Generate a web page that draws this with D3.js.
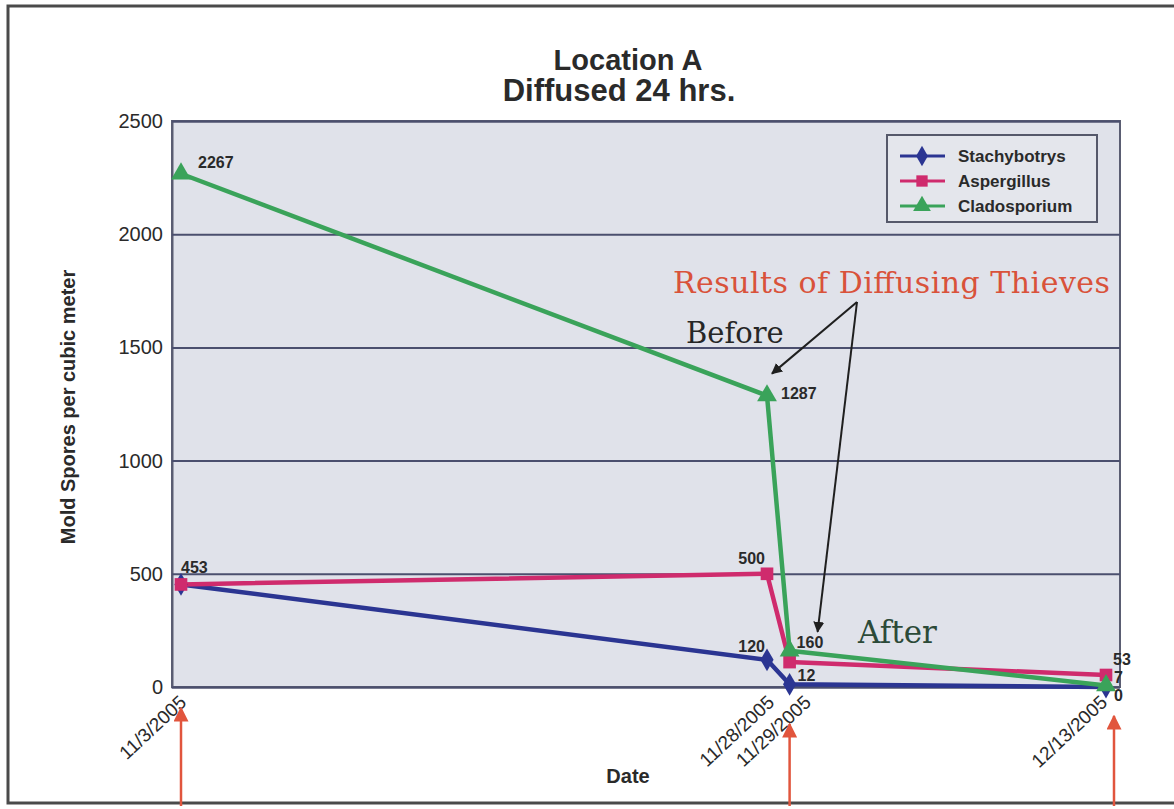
<!DOCTYPE html>
<html lang="en">
<head>
    <meta charset="UTF-8">
    <title>Location A</title>
    <script src="https://d3js.org/d3.v7.min.js"></script>
    <style>
        body { margin: 0; background: #fff; }
        svg { display: block; font-family: "Liberation Sans", Arial, sans-serif; }
    </style>
</head>
<body>
    <div id="chart"></div>
    <script>
        // data
        const dates = ["2005-11-03", "2005-11-28", "2005-11-29", "2005-12-13"]
        const dateLabels = ["11/3/2005", "11/28/2005", "11/29/2005", "12/13/2005"]
        const seriesNames = ["Stachybotrys", "Aspergillus", "Cladosporium"]
        const stachybotrys = [453, 120, 12, 0]
        const aspergillus = [453, 500, 110, 53]
        const cladosporium = [2267, 1287, 160, 7]
        // which values get a printed label (null = none)
        const stachyLabels = [null, "120", "12", "0"]
        const asperLabels = ["453", "500", null, "53"]
        const cladoLabels = ["2267", "1287", "160", "7"]
        const yTicks = [0, 500, 1000, 1500, 2000, 2500]

        var width = 1174,
            height = 809,
            margin = {left: 172, right: 54, top: 121, bottom: 122}

        const parse = d3.timeParse("%Y-%m-%d")
        const dateVals = dates.map(parse)

        const svg = d3.select("#chart").append("svg")
            .attr("width", width)
            .attr("height", height)

        // x is a date axis, piecewise so the close dates sit like in the picture
        const x = d3.scaleTime()
            .domain([dateVals[0], dateVals[1], dateVals[3]])
            .range([181, 767, 1106])
        const y = d3.scaleLinear()
            .domain([0, 2500])
            .range([height - margin.bottom, margin.top])

        // outer frame
        svg.append("rect")
            .attr("x", 8).attr("y", 6)
            .attr("width", width + 20).attr("height", 797)
            .attr("fill", "none")
            .attr("stroke", "#4a4a4a")
            .attr("stroke-width", 3)

        // titles
        svg.append("text").attr("x", 628).attr("y", 70)
            .attr("text-anchor", "middle")
            .style("font-size", "29px").style("font-weight", "bold").attr("fill", "#2a2a2a")
            .text("Location A")
        svg.append("text").attr("x", 619).attr("y", 101)
            .attr("text-anchor", "middle")
            .style("font-size", "31px").style("font-weight", "bold").attr("fill", "#2a2a2a")
            .text("Diffused 24 hrs.")

        // plot area
        const plotL = margin.left, plotR = width - margin.right
        svg.append("rect")
            .attr("x", plotL).attr("y", y(2500))
            .attr("width", plotR - plotL).attr("height", y(0) - y(2500))
            .attr("fill", "#e0e2ea")
            .attr("stroke", "#5a5d72")
            .attr("stroke-width", 2)

        // grid + y axis
        const yAxis = d3.axisLeft(y).tickValues(yTicks).tickFormat(d3.format("d"))
            .tickSize(-(plotR - plotL)).tickPadding(9)
        const gy = svg.append("g")
            .attr("transform", "translate(" + plotL + ",0)")
            .call(yAxis)
        gy.select(".domain").attr("stroke", "#5a5d72").attr("stroke-width", 2)
        gy.selectAll(".tick line").attr("stroke", "#4b4f6e").attr("stroke-width", 2)
        gy.selectAll(".tick text")
            .style("font-size", "20px")
            .style("font-family", "Liberation Sans, Arial, sans-serif")
            .attr("fill", "#2a2a2a")

        svg.append("text")
            .attr("transform", "translate(75,407) rotate(-90)")
            .attr("text-anchor", "middle")
            .style("font-size", "20px").style("font-weight", "bold").attr("fill", "#2a2a2a")
            .text("Mold Spores per cubic meter")

        // x axis labels
        const tickShift = [2, 4, 18, -2]
        const gx = svg.append("g")
        gx.selectAll("text").data(dateVals).join("text")
            .attr("transform", (d, i) => "translate(" + (x(d) + tickShift[i]) + "," + (y(0) + 12) + ") rotate(-43)")
            .attr("text-anchor", "end")
            .attr("dy", "0.35em")
            .style("font-size", "19px").attr("fill", "#2a2a2a")
            .text((d, i) => dateLabels[i])

        svg.append("text").attr("x", 628).attr("y", 783)
            .attr("text-anchor", "middle")
            .style("font-size", "20px").style("font-weight", "bold").attr("fill", "#2a2a2a")
            .text("Date")

        // series
        const series = [
            {name: seriesNames[0], values: stachybotrys, labels: stachyLabels, color: "#2b3592", shape: d3.symbolDiamond, size: 150,
             off: [[0, 0, "start"], [-2, -8, "end"], [8, -3, "start"], [8, 14, "start"]]},
            {name: seriesNames[1], values: aspergillus, labels: asperLabels, color: "#cf2b6d", shape: d3.symbolSquare, size: 160,
             off: [[0, -11, "start"], [-2, -10, "end"], [0, 0, "start"], [7, -10, "start"]]},
            {name: seriesNames[2], values: cladosporium, labels: cladoLabels, color: "#3aa35a", shape: d3.symbolTriangle, size: 170,
             off: [[17, -6, "start"], [14, 3, "start"], [7, -3, "start"], [8, -2, "start"]]}
        ]

        const line = d3.line()
            .x((d, i) => x(dateVals[i]))
            .y(d => y(d))

        series.forEach(s => {
            svg.append("path")
                .datum(s.values)
                .attr("d", line)
                .attr("fill", "none")
                .attr("stroke", s.color)
                .attr("stroke-width", 4.5)
                .attr("stroke-linejoin", "round")
        })
        series.forEach(s => {
            svg.append("g").selectAll("path").data(s.values).join("path")
                .attr("transform", (d, i) => "translate(" + x(dateVals[i]) + "," + y(d) + ")")
                .attr("d", d3.symbol().type(s.shape).size(s.size))
                .attr("fill", s.color)
        })

        // value labels
        series.forEach(s => {
            svg.append("g").selectAll("text")
                .data(s.values.map((v, i) => ({v: v, i: i, t: s.labels[i]})).filter(d => d.t !== null))
                .join("text")
                .attr("x", d => x(dateVals[d.i]) + s.off[d.i][0])
                .attr("y", d => y(d.v) + s.off[d.i][1])
                .attr("text-anchor", d => s.off[d.i][2])
                .style("font-size", "16px").style("font-weight", "bold").attr("fill", "#2a2a2a")
                .text(d => d.t)
        })

        // legend
        const legend = svg.append("g").attr("transform", "translate(887,135)")
        legend.append("rect")
            .attr("width", 210).attr("height", 87)
            .attr("fill", "#e4e6ec")
            .attr("stroke", "#55586a").attr("stroke-width", 2)
        series.forEach((s, i) => {
            const row = legend.append("g").attr("transform", "translate(0," + (21 + i * 25) + ")")
            row.append("line").attr("x1", 13).attr("x2", 58)
                .attr("stroke", s.color).attr("stroke-width", 3)
            row.append("path").attr("transform", "translate(35,0)")
                .attr("d", d3.symbol().type(s.shape).size(s.size * 0.8))
                .attr("fill", s.color)
            row.append("text").attr("x", 71).attr("dy", "0.35em")
                .style("font-size", "17px").style("font-weight", "bold").attr("fill", "#2a2a2a")
                .text(s.name)
        })

        // annotations
        const defs = svg.append("defs")
        function marker(id, color, sz) {
            defs.append("marker").attr("id", id)
                .attr("viewBox", "0 0 10 10").attr("refX", 9).attr("refY", 5)
                .attr("markerWidth", sz).attr("markerHeight", sz)
                .attr("markerUnits", "strokeWidth")
                .attr("orient", "auto")
                .append("path").attr("d", "M0,0 L10,5 L0,10 z").attr("fill", color)
        }
        marker("blackHead", "#1f1f1f", 5.5)
        marker("redHead", "#e1553d", 6)

        svg.append("text").attr("x", 673).attr("y", 293)
            .style("font-family", "DejaVu Serif, serif").style("font-size", "30px")
            .attr("fill", "#d9523a").attr("textLength", 437)
            .text("Results of Diffusing Thieves")
        svg.append("text").attr("x", 686).attr("y", 343)
            .style("font-family", "DejaVu Serif, serif").style("font-size", "29px")
            .attr("fill", "#262626")
            .text("Before")
        svg.append("text").attr("x", 858).attr("y", 643)
            .style("font-family", "DejaVu Serif, serif").style("font-size", "31px")
            .attr("fill", "#2c4a38")
            .text("After")

        // black arrows from the note to before / after points
        const noteTip = [857, 302]
        svg.append("line")
            .attr("x1", noteTip[0]).attr("y1", noteTip[1])
            .attr("x2", x(dateVals[1]) + 5).attr("y2", y(cladosporium[1]) - 22)
            .attr("stroke", "#1f1f1f").attr("stroke-width", 2)
            .attr("marker-end", "url(#blackHead)")
        svg.append("line")
            .attr("x1", noteTip[0]).attr("y1", noteTip[1])
            .attr("x2", x(dateVals[2]) + 28).attr("y2", y(cladosporium[2]) - 19)
            .attr("stroke", "#1f1f1f").attr("stroke-width", 2)
            .attr("marker-end", "url(#blackHead)")

        // red arrows under the x axis
        const arrowDates = [0, 2, 3]
        const arrowTop = [708, 724, 716]
        const arrowShift = [0, 0, 8]
        svg.append("g").selectAll("line").data(arrowDates).join("line")
            .attr("x1", (d, i) => x(dateVals[d]) + arrowShift[i])
            .attr("x2", (d, i) => x(dateVals[d]) + arrowShift[i])
            .attr("y1", 806)
            .attr("y2", (d, i) => arrowTop[i])
            .attr("stroke", "#e1553d").attr("stroke-width", 2.5)
            .attr("marker-end", "url(#redHead)")
    </script>
</body>
</html>
